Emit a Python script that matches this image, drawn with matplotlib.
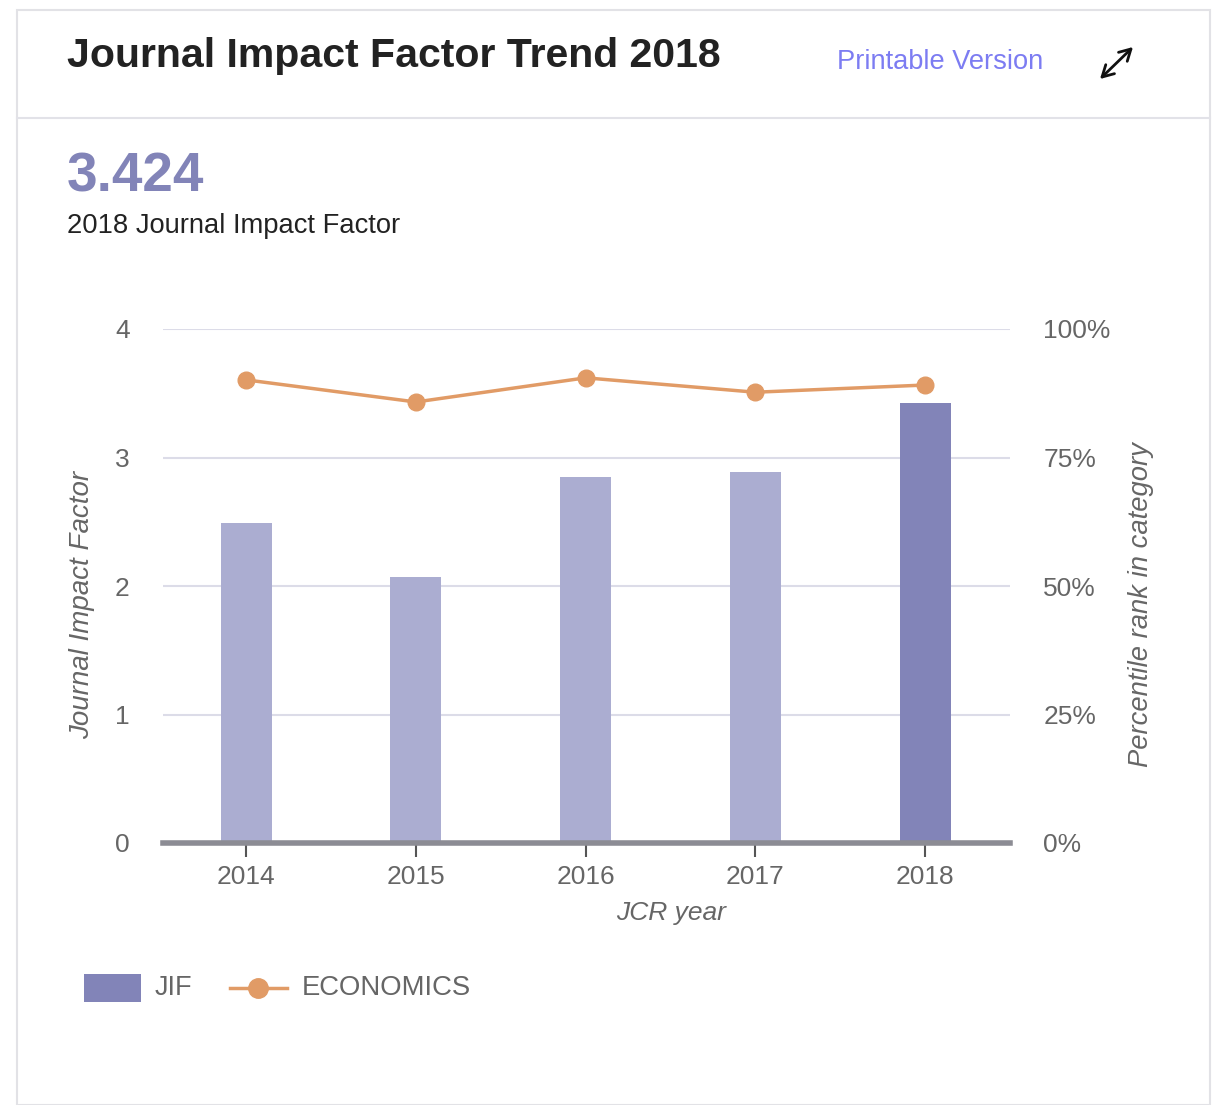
import matplotlib.pyplot as plt
from matplotlib.patches import Rectangle, FancyArrowPatch
from matplotlib.lines import Line2D

plt.rcParams['font.family'] = ['Liberation Sans', 'DejaVu Sans']

# data
years = ['2014', '2015', '2016', '2017', '2018']
jif = [2.49, 2.07, 2.85, 2.89, 3.424]
percentile = [90.1, 85.8, 90.5, 87.7, 89.1]
left_ticks = [0, 1, 2, 3, 4]
right_ticks = [0, 25, 50, 75, 100]

bar_light = '#abadd1'
bar_dark = '#8284b8'
line_col = '#e19b66'
tick_col = '#666666'

W, H = 1214, 1105
fig = plt.figure(figsize=(W / 100, H / 100), dpi=100)

def fx(px):
    return px / W

def fy(py):
    return 1 - py / H

# card frame
fig.patches.append(Rectangle((fx(17), fy(1105)), fx(1210 - 17), (1105 - 10) / H,
                             transform=fig.transFigure, facecolor='white',
                             edgecolor='#e2e2e6', linewidth=1.5, zorder=-5))
fig.lines.append(Line2D([fx(17), fx(1210)], [fy(118), fy(118)],
                        transform=fig.transFigure, color='#e2e2e8', linewidth=1.5,
                        zorder=-4))

# header
fig.text(fx(67), fy(56), 'Journal Impact Factor Trend 2018', fontsize=29.5,
         fontweight='bold', color='#222222', va='center', ha='left')
fig.text(fx(837), fy(62), 'Printable Version', fontsize=19.6, color='#7c7cf2',
         va='center', ha='left')
fig.text(fx(67), fy(192), '3.424', fontsize=39.5, fontweight='bold', color=bar_dark,
         va='baseline', ha='left')
fig.text(fx(67), fy(226), '2018 Journal Impact Factor', fontsize=19.7, color='#222222',
         va='center', ha='left')
fig.add_artist(FancyArrowPatch(
    (fx(1100), fy(79)), (fx(1133), fy(47)), transform=fig.transFigure,
    arrowstyle='<->,head_length=0.45,head_width=0.25', mutation_scale=18,
    color='#111111', linewidth=2, shrinkA=0, shrinkB=0))

# chart
ax = fig.add_axes([fx(163), fy(843), fx(1010 - 163), (843 - 329) / H], zorder=2)
ax.patch.set_alpha(0)
x = range(len(years))
colors = [bar_light] * (len(years) - 1) + [bar_dark]
ax.bar(x, jif, width=0.3, color=colors, zorder=2)
ax.set_xlim(-0.49, 4.5)
ax.set_ylim(0, 4)
ax.set_yticks(left_ticks)
ax.set_xticks(list(x))
ax.set_xticklabels(years)
ax.grid(axis='y', color='#dcdce8', linewidth=1.5, zorder=0)
ax.set_axisbelow(True)
for s in ['top', 'right', 'left']:
    ax.spines[s].set_visible(False)
ax.spines['bottom'].set_color('#8c8c94')
ax.spines['bottom'].set_linewidth(4)
ax.spines['bottom'].set_zorder(3)
ax.tick_params(axis='x', length=10, width=1.5, color='#555555', labelsize=19,
               labelcolor=tick_col, pad=6)
ax.tick_params(axis='y', length=0, labelsize=19, labelcolor=tick_col, pad=24)
ax.set_xlabel('JCR year', fontsize=19, style='italic', color=tick_col)
ax.xaxis.set_label_coords(0.5998, -0.112)
ax.set_ylabel('Journal Impact Factor', fontsize=20, style='italic', color=tick_col)
ax.yaxis.set_label_coords(-0.080, 0.463)

ax2 = ax.twinx()
ax2.plot(list(x), percentile, color=line_col, linewidth=2.5, marker='o',
         markersize=12, zorder=4)
ax2.set_ylim(0, 100)
ax2.set_yticks(right_ticks)
ax2.set_yticklabels([f'{t}%' for t in right_ticks])
for s in ax2.spines.values():
    s.set_visible(False)
ax2.tick_params(axis='y', length=0, labelsize=19, labelcolor=tick_col, pad=24)
ax2.set_ylabel('Percentile rank in category', fontsize=19.7, style='italic',
               color=tick_col)
ax2.yaxis.set_label_coords(1.139, 0.463)

# legend
fig.patches.append(Rectangle((fx(84), fy(1002)), fx(57), 28 / H,
                             transform=fig.transFigure, facecolor=bar_dark,
                             edgecolor='none'))
fig.text(fx(155), fy(988), 'JIF', fontsize=19.5, color=tick_col, va='center', ha='left')
fig.lines.append(Line2D([fx(230), fx(287)], [fy(988), fy(988)],
                        transform=fig.transFigure, color=line_col, linewidth=2.5))
fig.lines.append(Line2D([fx(258)], [fy(988)], transform=fig.transFigure,
                        marker='o', markersize=14, color=line_col))
fig.text(fx(302), fy(988), 'ECONOMICS', fontsize=19.8, color=tick_col, va='center',
         ha='left')

fig.savefig('out.png', dpi=100)
